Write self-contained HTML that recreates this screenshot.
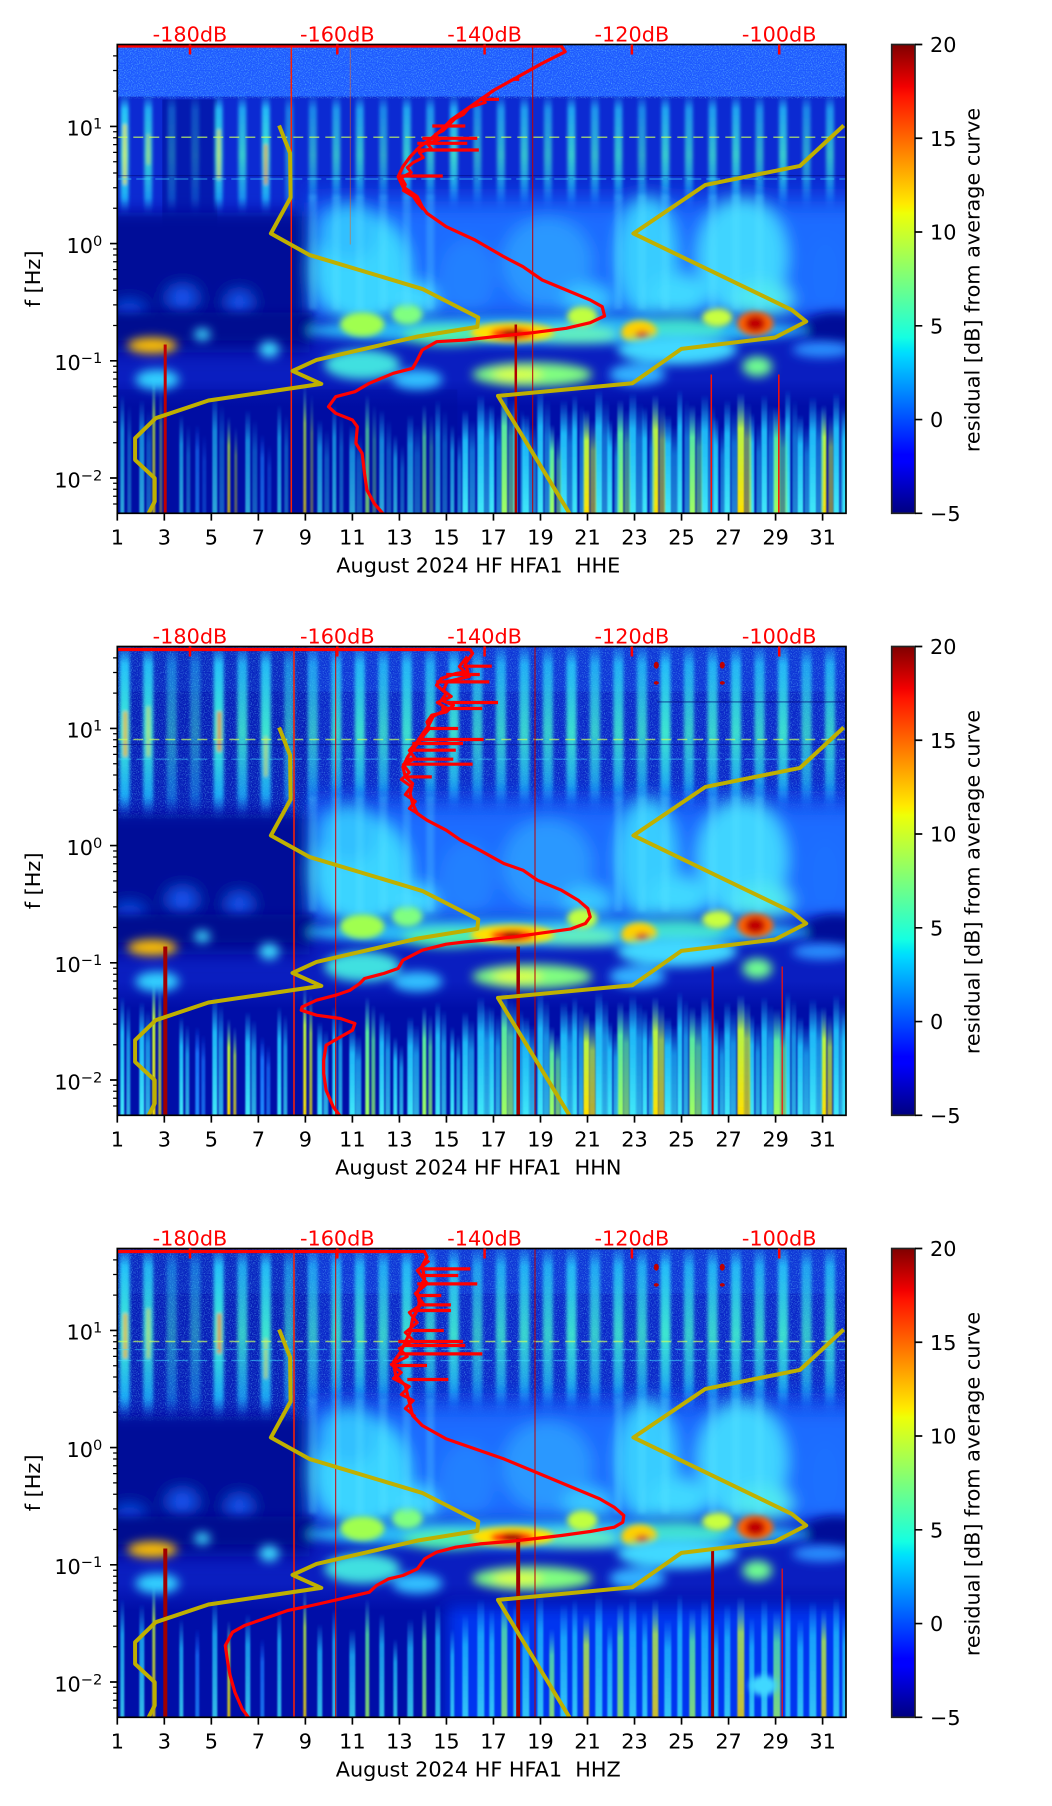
<!DOCTYPE html>
<html><head><meta charset="utf-8"><style>
html,body{margin:0;padding:0;background:#fff;}
svg{display:block;}
text{font-family:"DejaVu Sans","Liberation Sans",sans-serif;}
</style></head><body>
<svg width="1052" height="1806" viewBox="0 0 1052 1806" xmlns="http://www.w3.org/2000/svg" xmlns:xlink="http://www.w3.org/1999/xlink">
<defs>
<filter id="b1" x="-50%" y="-50%" width="200%" height="200%"><feGaussianBlur stdDeviation="0.8"/></filter>
<filter id="b15" x="-50%" y="-20%" width="200%" height="140%"><feGaussianBlur stdDeviation="1.6"/></filter>
<filter id="b3" x="-50%" y="-50%" width="200%" height="200%"><feGaussianBlur stdDeviation="3"/></filter>
<filter id="b5" x="-50%" y="-50%" width="200%" height="200%"><feGaussianBlur stdDeviation="5"/></filter>
<filter id="b8" x="-30%" y="-30%" width="160%" height="160%"><feGaussianBlur stdDeviation="8"/></filter>
<filter id="noise" x="0" y="0" width="100%" height="100%"><feTurbulence type="fractalNoise" baseFrequency="0.85" numOctaves="1" seed="7" result="t"/><feColorMatrix in="t" type="matrix" values="0 0 0 0 0.15  0 0 0 0 0.6  0 0 0 0 1  1.7 0 0 0 -0.78"/></filter>
<linearGradient id="jet" x1="0" y1="0" x2="0" y2="1">
<stop offset="0" stop-color="#800000"/><stop offset="0.09" stop-color="#f30000"/><stop offset="0.11" stop-color="#ff1300"/>
<stop offset="0.34" stop-color="#ffea00"/><stop offset="0.35" stop-color="#f7f500"/><stop offset="0.36" stop-color="#eeff08"/>
<stop offset="0.625" stop-color="#15ffe2"/><stop offset="0.65" stop-color="#00e6f7"/><stop offset="0.66" stop-color="#00dbff"/>
<stop offset="0.875" stop-color="#0000ff"/><stop offset="0.89" stop-color="#0000ff"/><stop offset="1" stop-color="#000080"/>
</linearGradient>
<linearGradient id="lowfade" gradientUnits="userSpaceOnUse" x1="0" y1="335" x2="0" y2="362">
<stop offset="0" stop-color="#000ea8" stop-opacity="0"/><stop offset="1" stop-color="#000ea8" stop-opacity="1"/>
</linearGradient>
<linearGradient id="sg" x1="0" y1="0" x2="0" y2="1">
<stop offset="0" stop-color="#30c0ff" stop-opacity="0"/><stop offset="0.12" stop-color="#28d0ff" stop-opacity="0.9"/>
<stop offset="0.5" stop-color="#40f0d0" stop-opacity="1"/><stop offset="0.85" stop-color="#20c0ff" stop-opacity="0.85"/><stop offset="1" stop-color="#2090ff" stop-opacity="0"/>
</linearGradient>
<linearGradient id="stc" x1="0" y1="0" x2="0" y2="1"><stop offset="0" stop-color="#20b8ff" stop-opacity="0"/><stop offset="0.3" stop-color="#20c8ff" stop-opacity="0.9"/><stop offset="1" stop-color="#40e8f8" stop-opacity="1"/></linearGradient>
<linearGradient id="stg" x1="0" y1="0" x2="0" y2="1"><stop offset="0" stop-color="#40e0ff" stop-opacity="0"/><stop offset="0.3" stop-color="#60ffa0" stop-opacity="0.9"/><stop offset="1" stop-color="#a0ff60" stop-opacity="1"/></linearGradient>
<linearGradient id="sty" x1="0" y1="0" x2="0" y2="1"><stop offset="0" stop-color="#40e0ff" stop-opacity="0"/><stop offset="0.3" stop-color="#c0ff40" stop-opacity="0.95"/><stop offset="1" stop-color="#ffe000" stop-opacity="1"/></linearGradient>
<linearGradient id="stb" x1="0" y1="0" x2="0" y2="1"><stop offset="0" stop-color="#1060ff" stop-opacity="0"/><stop offset="0.3" stop-color="#1878ff" stop-opacity="0.9"/><stop offset="1" stop-color="#2090ff" stop-opacity="0.95"/></linearGradient>
<clipPath id="pc"><rect x="0" y="0" width="728.7" height="468.8"/></clipPath>

<g id="streaks" filter="url(#b1)">
<rect x="3" y="350" width="4" height="119" fill="url(#stc)"/><rect x="22" y="355" width="5" height="114" fill="url(#stc)"/>
<rect x="35" y="330" width="3" height="139" fill="url(#sty)"/><rect x="62" y="370" width="4" height="99" fill="url(#stc)"/>
<rect x="78" y="380" width="4" height="89" fill="url(#stb)"/><rect x="95" y="350" width="5" height="119" fill="url(#stc)"/>
<rect x="110" y="372" width="3" height="97" fill="url(#sty)"/><rect x="128" y="365" width="5" height="104" fill="url(#stc)"/>
<rect x="143" y="390" width="4" height="79" fill="url(#stb)"/><rect x="160" y="360" width="4" height="109" fill="url(#stc)"/>
<rect x="186" y="340" width="3" height="129" fill="url(#sty)"/><rect x="200" y="375" width="5" height="94" fill="url(#stc)"/>
<rect x="215" y="360" width="4" height="109" fill="url(#stc)"/><rect x="232" y="380" width="6" height="89" fill="url(#stc)"/>
<rect x="248" y="350" width="4" height="119" fill="url(#stg)"/><rect x="262" y="365" width="5" height="104" fill="url(#stc)"/>
<rect x="276" y="390" width="4" height="79" fill="url(#stc)"/><rect x="290" y="370" width="6" height="99" fill="url(#stc)"/>
<rect x="305" y="360" width="4" height="109" fill="url(#stg)"/><rect x="318" y="355" width="5" height="114" fill="url(#stc)"/>
<rect x="333" y="380" width="4" height="89" fill="url(#stc)"/><rect x="345" y="365" width="6" height="104" fill="url(#stc)"/>
<rect x="360" y="350" width="7" height="119" fill="url(#stc)"/><rect x="372" y="360" width="5" height="109" fill="url(#stc)"/>
<rect x="384" y="345" width="6" height="124" fill="url(#stg)"/><rect x="396" y="355" width="4" height="114" fill="url(#stc)"/>
<rect x="405" y="370" width="7" height="99" fill="url(#stc)"/><rect x="420" y="345" width="6" height="124" fill="url(#stc)"/>
<rect x="432" y="380" width="5" height="89" fill="url(#stg)"/><rect x="443" y="355" width="7" height="114" fill="url(#stc)"/>
<rect x="455" y="350" width="5" height="119" fill="url(#stc)"/><rect x="466" y="365" width="6" height="104" fill="url(#sty)"/>
<rect x="478" y="345" width="7" height="124" fill="url(#stc)"/><rect x="490" y="375" width="5" height="94" fill="url(#stc)"/>
<rect x="500" y="355" width="6" height="114" fill="url(#stg)"/><rect x="512" y="348" width="7" height="121" fill="url(#stc)"/>
<rect x="525" y="362" width="5" height="107" fill="url(#stc)"/><rect x="535" y="350" width="6" height="119" fill="url(#sty)"/>
<rect x="547" y="370" width="7" height="99" fill="url(#stc)"/><rect x="560" y="345" width="5" height="124" fill="url(#stc)"/>
<rect x="572" y="360" width="6" height="109" fill="url(#stg)"/><rect x="584" y="350" width="7" height="119" fill="url(#stc)"/>
<rect x="596" y="372" width="5" height="97" fill="url(#stc)"/><rect x="607" y="355" width="6" height="114" fill="url(#stc)"/>
<rect x="620" y="348" width="7" height="121" fill="url(#sty)"/><rect x="632" y="368" width="5" height="101" fill="url(#stc)"/>
<rect x="644" y="350" width="6" height="119" fill="url(#stc)"/><rect x="656" y="362" width="7" height="107" fill="url(#stg)"/>
<rect x="668" y="345" width="5" height="124" fill="url(#stc)"/><rect x="680" y="370" width="6" height="99" fill="url(#stc)"/>
<rect x="692" y="352" width="7" height="117" fill="url(#stc)"/><rect x="704" y="360" width="5" height="109" fill="url(#sty)"/>
<rect x="716" y="348" width="6" height="121" fill="url(#stc)"/><rect x="725" y="365" width="5" height="104" fill="url(#stc)"/>
</g>

<g id="mid">
<g filter="url(#b8)">
<rect x="-30" y="168" width="222" height="140" fill="#000c98"/>
<rect x="192" y="158" width="560" height="114" fill="#1a6cff"/>
<rect x="192" y="145" width="560" height="22" fill="#1450f0" opacity="0.6"/>
<ellipse cx="245" cy="225" rx="48" ry="55" fill="#3ad4ff"/>
<ellipse cx="232" cy="188" rx="28" ry="28" fill="#30c0ff"/>
<ellipse cx="295" cy="255" rx="25" ry="18" fill="#40d8ff"/>
<ellipse cx="350" cy="232" rx="28" ry="38" fill="#2080ff"/>
<ellipse cx="430" cy="218" rx="45" ry="45" fill="#2a98ff"/>
<ellipse cx="470" cy="255" rx="25" ry="15" fill="#38c8ff"/>
<ellipse cx="530" cy="212" rx="30" ry="60" fill="#38ccff"/>
<ellipse cx="560" cy="250" rx="30" ry="20" fill="#40d8ff"/>
<ellipse cx="625" cy="212" rx="45" ry="58" fill="#40d4ff"/>
<ellipse cx="645" cy="255" rx="30" ry="18" fill="#50e8f0"/>
<ellipse cx="708" cy="230" rx="20" ry="40" fill="#1e70ff"/>
<ellipse cx="65" cy="253" rx="14" ry="10" fill="#1a5cff"/>
<ellipse cx="122" cy="258" rx="12" ry="10" fill="#1a5cff"/>
<ellipse cx="12" cy="266" rx="15" ry="8" fill="#1050f0"/>
</g>
<g filter="url(#b5)">
<rect x="-20" y="268" width="215" height="28" fill="#000a90"/>
<ellipse cx="718" cy="284" rx="32" ry="16" fill="#000c98"/>
<ellipse cx="440" cy="286" rx="250" ry="14" fill="#30d0ff" opacity="0.85"/>
<ellipse cx="330" cy="291" rx="45" ry="10" fill="#50f0b0"/>
<ellipse cx="560" cy="286" rx="45" ry="13" fill="#40e0d0"/>
<ellipse cx="460" cy="290" rx="40" ry="9" fill="#60f0c0"/>
</g>
<g filter="url(#b3)">
<ellipse cx="245" cy="280" rx="22" ry="12" fill="#a0ff50"/>
<ellipse cx="290" cy="270" rx="15" ry="10" fill="#80ff80"/>
<ellipse cx="395" cy="288" rx="42" ry="10" fill="#ffe000"/>
<ellipse cx="395" cy="289" rx="22" ry="6" fill="#ff2000"/>
<ellipse cx="395" cy="289" rx="10" ry="4" fill="#a00000"/>
<ellipse cx="465" cy="272" rx="15" ry="10" fill="#c0ff40"/>
<ellipse cx="522" cy="288" rx="18" ry="12" fill="#ffd000"/>
<ellipse cx="525" cy="291" rx="7" ry="5" fill="#ff5000"/>
<ellipse cx="600" cy="273" rx="15" ry="9" fill="#c8ff40"/>
<ellipse cx="638" cy="279" rx="18" ry="12" fill="#ff6000"/>
<ellipse cx="638" cy="279" rx="10" ry="8" fill="#c00000"/>
</g>
<g filter="url(#b5)">
<ellipse cx="35" cy="301" rx="25" ry="8" fill="#ffc000"/>
<ellipse cx="40" cy="335" rx="22" ry="10" fill="#30d0ff"/>
<ellipse cx="85" cy="290" rx="8" ry="6" fill="#40e0ff"/>
<ellipse cx="152" cy="305" rx="10" ry="8" fill="#40e0ff"/>
<ellipse cx="245" cy="320" rx="38" ry="15" fill="#40e0e0"/>
<ellipse cx="300" cy="335" rx="25" ry="10" fill="#30c0ff"/>
<ellipse cx="415" cy="330" rx="60" ry="12" fill="#80ff80"/>
<ellipse cx="400" cy="330" rx="25" ry="6" fill="#e0ff40"/>
<ellipse cx="520" cy="330" rx="28" ry="11" fill="#30b0ff"/>
<ellipse cx="560" cy="305" rx="60" ry="15" fill="#40d8ff"/>
<ellipse cx="640" cy="322" rx="15" ry="10" fill="#70ff90"/>
<ellipse cx="705" cy="305" rx="30" ry="8" fill="#2a90ff"/>
</g>
</g>

<g id="yel" fill="none" stroke="#bfb000" stroke-width="4" stroke-linejoin="round">
<polyline points="161.8,81.0 172.8,108.7 173.3,153.0 153.6,189.0 192.0,210.4 304.9,244.4 361.0,273.0 360.0,282.4 300.5,292.0 199.2,315.4 175.2,326.4 204.0,339.4 91.2,356.0 38.4,373.7 17.8,393.7 17.8,415.4 37.4,433.7 37.4,457.0 30.2,471"/>
<polyline points="726.4,81.0 682.7,121.4 588.1,140.4 516.1,189.0 674.5,265.4 688.9,277.0 657.7,293.0 564.1,304.4 515.1,338.7 380.7,351.4 453.5,471"/>
</g>

<g id="axes">
<rect x="0" y="0" width="728.7" height="468.8" fill="none" stroke="#000" stroke-width="1.67"/>
<path d="M0,81.9h-7.3M0,199.1h-7.3M0,316.3h-7.3M0,433.5h-7.3" stroke="#000" stroke-width="1.67"/>
<path d="M0,46.6h-4.2M0,26h-4.2M0,11.4h-4.2M0,163.8h-4.2M0,143.2h-4.2M0,128.5h-4.2M0,117.2h-4.2M0,107.9h-4.2M0,100.1h-4.2M0,93.3h-4.2M0,87.3h-4.2M0,281h-4.2M0,260.4h-4.2M0,245.7h-4.2M0,234.4h-4.2M0,225.1h-4.2M0,217.3h-4.2M0,210.5h-4.2M0,204.5h-4.2M0,398.2h-4.2M0,377.6h-4.2M0,362.9h-4.2M0,351.6h-4.2M0,342.3h-4.2M0,334.5h-4.2M0,327.7h-4.2M0,321.7h-4.2M0,459.5h-4.2M0,451.7h-4.2M0,444.7h-4.2M0,438.7h-4.2" stroke="#000" stroke-width="1.25"/>
<path d="M0,468.8v7.3M47.02,468.8v7.3M94.04,468.8v7.3M141.06,468.8v7.3M188.08,468.8v7.3M235.1,468.8v7.3M282.12,468.8v7.3M329.14,468.8v7.3M376.16,468.8v7.3M423.18,468.8v7.3M470.2,468.8v7.3M517.22,468.8v7.3M564.24,468.8v7.3M611.26,468.8v7.3M658.28,468.8v7.3M705.3,468.8v7.3" stroke="#000" stroke-width="1.67"/>
<g font-size="20.8" text-anchor="middle" fill="#000">
<text x="0" y="499.8">1</text><text x="47.02" y="499.8">3</text><text x="94.04" y="499.8">5</text><text x="141.06" y="499.8">7</text>
<text x="188.08" y="499.8">9</text><text x="235.1" y="499.8">11</text><text x="282.12" y="499.8">13</text><text x="329.14" y="499.8">15</text>
<text x="376.16" y="499.8">17</text><text x="423.18" y="499.8">19</text><text x="470.2" y="499.8">21</text><text x="517.22" y="499.8">23</text>
<text x="564.24" y="499.8">25</text><text x="611.26" y="499.8">27</text><text x="658.28" y="499.8">29</text><text x="705.3" y="499.8">31</text>
</g>
<g font-size="20.8" text-anchor="end" fill="#000">
<text x="-15" y="91.2">10<tspan font-size="14.6" dy="-7">1</tspan></text>
<text x="-15" y="208.4">10<tspan font-size="14.6" dy="-7">0</tspan></text>
<text x="-15" y="325.6">10<tspan font-size="14.6" dy="-7">−1</tspan></text>
<text x="-15" y="442.8">10<tspan font-size="14.6" dy="-7">−2</tspan></text>
</g>
<text transform="translate(-77.3,234.4) rotate(-90)" font-size="20.8" text-anchor="middle" fill="#000">f [Hz]</text>
<g font-size="20.8" text-anchor="middle" fill="#ff0000">
<text x="72.7" y="-3">-180dB</text><text x="220" y="-3">-160dB</text><text x="367.3" y="-3">-140dB</text><text x="514.6" y="-3">-120dB</text><text x="661.9" y="-3">-100dB</text>
</g>
<path d="M72.7,0v10M220,0v10M367.3,0v10M514.6,0v10M661.9,0v10" stroke="#ff0000" stroke-width="2.5"/>
<rect x="774.4" y="0" width="23.3" height="468.8" fill="url(#jet)" stroke="#222" stroke-width="1.67"/>
<path d="M797.7,0h7.3M797.7,93.76h7.3M797.7,187.52h7.3M797.7,281.28h7.3M797.7,375.04h7.3M797.7,468.8h7.3" stroke="#000" stroke-width="1.67"/>
<g font-size="20.8" fill="#000">
<text x="812.7" y="7.6">20</text><text x="812.7" y="101.4">15</text><text x="812.7" y="195.1">10</text><text x="812.7" y="288.9">5</text><text x="812.7" y="382.6">0</text><text x="812.7" y="476.4">−5</text>
</g>
<text transform="translate(862.2,235.5) rotate(-90)" font-size="20.8" text-anchor="middle" fill="#000">residual [dB] from average curve</text>
</g>

<rect id="s1" x="-4" y="50" width="8" height="122" fill="url(#sg)"/>
<rect id="s2" x="-5" y="-4" width="10" height="180" fill="url(#sg)"/>
<rect id="s3" x="-4" y="150" width="8" height="115" fill="#60e8ff" opacity="0.25"/>
</defs>

<!-- ================= PANEL 1 ================= -->
<g transform="translate(117.3,44.5)">
<g clip-path="url(#pc)">
<rect x="0" y="0" width="728.7" height="468.8" fill="#0a1ec0"/>
<rect x="0" y="330" width="728.7" height="139" fill="url(#lowfade)"/>
<use href="#streaks"/>
<use href="#streaks" transform="translate(7,10)" opacity=".55"/>
<rect x="0" y="345" width="340" height="124" fill="#000c98" opacity="0.3"/>
<rect x="0" y="0" width="728.7" height="54" fill="#1e5aff"/>
<rect x="0" y="52" width="728.7" height="120" fill="#0c2ad2"/>
<rect x="45" y="55" width="55" height="140" fill="#00109a" opacity="0.6"/>
<rect x="0" y="0" width="728.7" height="54" filter="url(#noise)"/>
<g filter="url(#b15)">
<use href="#s1" x="7.4"/><use href="#s1" x="30.9" opacity=".85"/><use href="#s1" x="54.4" opacity=".35"/><use href="#s1" x="77.9" opacity=".3"/>
<use href="#s1" x="101.4" opacity=".9"/><use href="#s1" x="125" opacity=".8"/><use href="#s1" x="148.5" opacity=".95"/><use href="#s1" x="172" opacity=".5"/>
<use href="#s1" x="195.5" opacity=".6"/><use href="#s1" x="219" opacity=".7"/><use href="#s1" x="242.5" opacity=".75"/><use href="#s1" x="266" opacity=".6"/>
<use href="#s1" x="289.5" opacity=".8"/><use href="#s1" x="313" opacity=".7"/><use href="#s1" x="336.5" opacity=".85"/><use href="#s1" x="360.1" opacity=".6"/>
<use href="#s1" x="383.6" opacity=".7"/><use href="#s1" x="407.1" opacity=".75"/><use href="#s1" x="430.6" opacity=".65"/><use href="#s1" x="454.1" opacity=".8"/>
<use href="#s1" x="477.6" opacity=".7"/><use href="#s1" x="501.1" opacity=".75"/><use href="#s1" x="524.6" opacity=".6"/><use href="#s1" x="548.1" opacity=".8"/>
<use href="#s1" x="571.6" opacity=".7"/><use href="#s1" x="595.2" opacity=".75"/><use href="#s1" x="618.7" opacity=".8"/><use href="#s1" x="642.2" opacity=".65"/>
<use href="#s1" x="665.7" opacity=".8"/><use href="#s1" x="689.2" opacity=".6"/><use href="#s1" x="712.7" opacity=".7"/>
<rect x="6" y="80" width="3" height="60" fill="#ffe030" opacity=".8"/><rect x="100" y="85" width="3" height="50" fill="#ffe030" opacity=".7"/>
<rect x="147" y="100" width="3" height="40" fill="#ff9020" opacity=".8"/><rect x="29.5" y="90" width="3" height="30" fill="#ffe030" opacity=".5"/>
</g>
<use href="#mid"/>
<g filter="url(#b15)">
<use href="#s3" x="195.5"/><use href="#s3" x="219"/><use href="#s3" x="242.5"/><use href="#s3" x="266"/><use href="#s3" x="289.5"/><use href="#s3" x="313"/>
<use href="#s3" x="501.1"/><use href="#s3" x="524.6"/><use href="#s3" x="548.1"/><use href="#s3" x="595.2"/><use href="#s3" x="618.7"/><use href="#s3" x="642.2"/>
</g>
<line x1="0" y1="92.8" x2="728.7" y2="92.8" stroke="#c8ff60" stroke-width="1.5" stroke-dasharray="10 6" opacity=".7"/>
<line x1="0" y1="131.2" x2="728.7" y2="131.2" stroke="#000060" stroke-width="1.2" opacity=".45"/>
<line x1="0" y1="134.5" x2="728.7" y2="134.5" stroke="#40e0ff" stroke-width="1.2" stroke-dasharray="14 5" opacity=".5"/>
<g stroke-linecap="butt">
<line x1="47.9" y1="300" x2="47.9" y2="469" stroke="#c00000" stroke-width="3"/>
<line x1="174" y1="0" x2="174" y2="469" stroke="#ff2000" stroke-width="1.5"/>
<line x1="233" y1="0" x2="233" y2="200" stroke="#ff6000" stroke-width="1" opacity=".5"/>
<line x1="398.5" y1="280" x2="398.5" y2="469" stroke="#b00000" stroke-width="2.5"/>
<line x1="415.4" y1="0" x2="415.4" y2="469" stroke="#c00000" stroke-width="1"/>
<line x1="594" y1="330" x2="594" y2="469" stroke="#ff1000" stroke-width="1.5"/>
<line x1="661.5" y1="330" x2="661.5" y2="469" stroke="#ff1000" stroke-width="1.5"/>
</g>
<use href="#yel"/>
<g fill="none" stroke="#ff0000" stroke-linejoin="round">
<polyline stroke-width="3.2" points="0,1.5 444,1.5 447.9,7.2 424.9,18.8 400.9,32.2 376.9,45.5 362.5,55.5 348.1,65.5 333.7,75.5 324.1,85.5 312.1,95.5 302.5,102.2 292.9,112.2 285.6,122.2 280.8,132.2 285.6,142.2 300,152.2 304.9,162.2 309.7,168.8 328.9,182.2 357.7,195.5 386.5,212.2 405.7,222.2 424.9,235.5 448.9,245.5 472.9,255.5 484.9,262.2 487.3,271.5 472.9,278.2 448.9,283.8 415.3,288.2 376.9,292.2 348.1,295.5 319.3,297.2 304.9,305.5 300,315.5 295.3,323.8 276,328.8 252,338.8 237.6,347.2 218.4,352.2 211.2,362.2 218.4,368.8 235.2,375.5 240,382.2 238.6,398.8 244.8,408.8 247.2,428.8 249.6,445.5 256.8,458.8 266.4,470"/>
<polyline stroke-width="3" points="372,50 364,54 368,58 352,63 346,70 338,74 332,80 326,86 318,90 322,95 310,99 314,104 302,108 306,113 296,118 290,123 294,128 284,133 288,140 286,146 296,152 300,158 306,165"/>
<g stroke-width="3.2"><line x1="362" y1="54.8" x2="381.7" y2="54.8"/><line x1="315" y1="81.5" x2="348" y2="81.5"/><line x1="305" y1="93.8" x2="360" y2="93.8"/><line x1="300" y1="98.8" x2="350" y2="98.8"/><line x1="298" y1="105.5" x2="361.5" y2="105.5"/><line x1="282" y1="131.5" x2="325.5" y2="131.5"/><line x1="395" y1="34.8" x2="402" y2="34.8"/></g>
</g>
</g>
<use href="#axes"/>
<text x="361" y="528.1" font-size="20.8" text-anchor="middle" fill="#000" style="white-space:pre">August 2024 HF HFA1  HHE</text>
</g>

<!-- ================= PANEL 2 ================= -->
<g transform="translate(117.3,646.5)">
<g clip-path="url(#pc)">
<rect x="0" y="0" width="728.7" height="468.8" fill="#0a1ec0"/>
<rect x="0" y="330" width="728.7" height="139" fill="url(#lowfade)"/>
<use href="#streaks"/>
<use href="#streaks" transform="translate(6,8)" opacity=".75"/>
<rect x="0" y="0" width="728.7" height="172" fill="#0a26c8"/>
<rect x="0" y="0" width="728.7" height="45" fill="#1040e0" opacity=".6"/>
<rect x="0" y="0" width="190" height="200" fill="#000c98" opacity=".35"/>
<rect x="0" y="0" width="728.7" height="172" filter="url(#noise)" opacity=".8"/>
<g filter="url(#b15)">
<use href="#s2" x="7.4"/><use href="#s2" x="30.9" opacity=".95"/><use href="#s2" x="54.4" opacity=".5"/><use href="#s2" x="77.9" opacity=".45"/>
<use href="#s2" x="101.4"/><use href="#s2" x="125" opacity=".85"/><use href="#s2" x="148.5" opacity=".95"/><use href="#s2" x="172" opacity=".6"/>
<use href="#s2" x="195.5" opacity=".7"/><use href="#s2" x="219" opacity=".85"/><use href="#s2" x="242.5" opacity=".9"/><use href="#s2" x="266" opacity=".8"/>
<use href="#s2" x="289.5" opacity=".9"/><use href="#s2" x="313" opacity=".8"/><use href="#s2" x="336.5" opacity=".9"/><use href="#s2" x="360.1" opacity=".75"/>
<use href="#s2" x="383.6" opacity=".8"/><use href="#s2" x="407.1" opacity=".85"/><use href="#s2" x="430.6" opacity=".8"/><use href="#s2" x="454.1" opacity=".9"/>
<use href="#s2" x="477.6" opacity=".8"/><use href="#s2" x="501.1" opacity=".85"/><use href="#s2" x="524.6" opacity=".8"/><use href="#s2" x="548.1" opacity=".95"/>
<use href="#s2" x="571.6" opacity=".8"/><use href="#s2" x="595.2" opacity=".85"/><use href="#s2" x="618.7" opacity=".9"/><use href="#s2" x="642.2" opacity=".8"/>
<use href="#s2" x="665.7" opacity=".9"/><use href="#s2" x="689.2" opacity=".75"/><use href="#s2" x="712.7" opacity=".8"/>
<rect x="6" y="65" width="4" height="45" fill="#ffb020" opacity=".8"/><rect x="100" y="65" width="4" height="40" fill="#ff8020" opacity=".8"/>
<rect x="29.5" y="60" width="3" height="50" fill="#ffe030" opacity=".6"/><rect x="147" y="90" width="3" height="40" fill="#ffe030" opacity=".6"/>
</g>
<use href="#mid"/>
<g filter="url(#b15)">
<use href="#s3" x="195.5"/><use href="#s3" x="219"/><use href="#s3" x="242.5"/><use href="#s3" x="266"/><use href="#s3" x="289.5"/><use href="#s3" x="313"/>
<use href="#s3" x="501.1"/><use href="#s3" x="524.6"/><use href="#s3" x="548.1"/><use href="#s3" x="595.2"/><use href="#s3" x="618.7"/><use href="#s3" x="642.2"/>
</g>
<g fill="#c00000"><ellipse cx="539" cy="18.7" rx="2.5" ry="3.5"/><ellipse cx="605" cy="18.7" rx="2.5" ry="3.5"/><ellipse cx="539" cy="36.4" rx="2.5" ry="1.8"/><ellipse cx="605" cy="36.4" rx="2.5" ry="1.8"/></g>
<line x1="540" y1="55.4" x2="728.7" y2="55.4" stroke="#000070" stroke-width="1.5" opacity=".45"/>
<line x1="0" y1="93" x2="728.7" y2="93" stroke="#c8ff60" stroke-width="1.5" stroke-dasharray="10 6" opacity=".7"/>
<line x1="0" y1="98" x2="728.7" y2="98" stroke="#000070" stroke-width="1.2" opacity=".4"/>
<line x1="0" y1="112.7" x2="728.7" y2="112.7" stroke="#40e0ff" stroke-width="1.2" stroke-dasharray="14 5" opacity=".5"/>
<g>
<line x1="48" y1="300" x2="48" y2="469" stroke="#a00000" stroke-width="4"/>
<line x1="176.7" y1="0" x2="176.7" y2="469" stroke="#ff2000" stroke-width="1.5"/>
<line x1="218.4" y1="0" x2="218.4" y2="469" stroke="#d00000" stroke-width="1"/>
<line x1="400.9" y1="300" x2="400.9" y2="469" stroke="#a00000" stroke-width="3.5"/>
<line x1="417.7" y1="0" x2="417.7" y2="469" stroke="#c00000" stroke-width="1"/>
<line x1="595.3" y1="320" x2="595.3" y2="469" stroke="#c00000" stroke-width="2"/>
<line x1="664.9" y1="320" x2="664.9" y2="469" stroke="#ff1000" stroke-width="1.2"/>
</g>
<use href="#yel"/>
<g fill="none" stroke="#ff0000" stroke-linejoin="round">
<polyline stroke-width="3.2" points="0,3 352.9,3 355.3,7 348.1,17 350.5,25.4 338.5,27 324.1,32 319.3,38.7 328.9,47 324.1,53.7 336.1,58.7 328.9,65.4 314.5,68.7 309.7,75.4 312.1,82 304.9,90.4 297.6,100.4 290.4,110.4 285.6,120.4 288,130.4 295.3,137 292.8,147 295.3,157 300,167 309.7,173.7 328.9,183.7 343.3,193.7 362.5,203.7 386.5,217 405.7,223.7 420.1,233.7 444.1,243.7 460.9,253.7 470.5,262 472.9,270.4 468.1,277 453.7,282.4 424.9,286.4 396.1,290.4 367.3,293.7 348.1,295.4 328.9,297.7 304.9,303.7 285.6,313.7 280.8,322 266.4,327 247.2,332 242.4,337 232.8,343.7 218.4,348.7 199.2,353.7 184.8,360.4 183.9,363.7 199.2,368.7 223.2,372 237.6,377 235.2,383.7 223.2,390.4 208.8,398.7 206.4,413.7 206.4,427 208.8,443.7 216,460.4 223.2,470"/>
<polyline stroke-width="3" points="350,10 342,20 352,30 330,35 326,44 334,50 320,56 330,62 316,70 312,78 306,86 300,95 292,104 298,112 286,118 292,126 284,133 294,140 288,148 298,155 292,162 302,168"/>
<g stroke-width="3.2"><line x1="346" y1="19.7" x2="374.5" y2="19.7"/><line x1="328.9" y1="28" x2="362.5" y2="28"/><line x1="319" y1="35.4" x2="372" y2="35.4"/><line x1="329" y1="56" x2="380.7" y2="56"/><line x1="324" y1="62" x2="365" y2="62"/><line x1="309.7" y1="82" x2="340.9" y2="82"/><line x1="300" y1="93" x2="366.3" y2="93"/><line x1="295" y1="97" x2="345.7" y2="97"/><line x1="292.8" y1="103.7" x2="338.5" y2="103.7"/><line x1="288" y1="112.7" x2="336" y2="112.7"/><line x1="288" y1="117.7" x2="355.3" y2="117.7"/><line x1="288" y1="130.4" x2="314.5" y2="130.4"/></g>
</g>
</g>
<use href="#axes"/>
<text x="361" y="528.1" font-size="20.8" text-anchor="middle" fill="#000" style="white-space:pre">August 2024 HF HFA1  HHN</text>
</g>

<!-- ================= PANEL 3 ================= -->
<g transform="translate(117.3,1248.5)">
<g clip-path="url(#pc)">
<rect x="0" y="0" width="728.7" height="468.8" fill="#0a1ec0"/>
<rect x="0" y="330" width="728.7" height="139" fill="url(#lowfade)"/>
<rect x="330" y="358" width="420" height="130" fill="#0036f0" filter="url(#b8)"/>
<use href="#streaks" opacity=".8"/>
<ellipse cx="646" cy="437" rx="14" ry="10" fill="#40d8ff" filter="url(#b3)"/>
<rect x="0" y="0" width="728.7" height="172" fill="#0a26c8"/>
<rect x="0" y="0" width="728.7" height="45" fill="#1040e0" opacity=".6"/>
<rect x="0" y="0" width="190" height="200" fill="#000c98" opacity=".35"/>
<rect x="0" y="0" width="728.7" height="172" filter="url(#noise)" opacity=".8"/>
<g filter="url(#b15)">
<use href="#s2" x="7.4"/><use href="#s2" x="30.9" opacity=".9"/><use href="#s2" x="54.4" opacity=".45"/><use href="#s2" x="77.9" opacity=".45"/>
<use href="#s2" x="101.4"/><use href="#s2" x="125" opacity=".8"/><use href="#s2" x="148.5" opacity=".95"/><use href="#s2" x="172" opacity=".6"/>
<use href="#s2" x="195.5" opacity=".7"/><use href="#s2" x="219" opacity=".85"/><use href="#s2" x="242.5" opacity=".85"/><use href="#s2" x="266" opacity=".8"/>
<use href="#s2" x="289.5" opacity=".9"/><use href="#s2" x="313" opacity=".75"/><use href="#s2" x="336.5" opacity=".9"/><use href="#s2" x="360.1" opacity=".7"/>
<use href="#s2" x="383.6" opacity=".8"/><use href="#s2" x="407.1" opacity=".85"/><use href="#s2" x="430.6" opacity=".8"/><use href="#s2" x="454.1" opacity=".9"/>
<use href="#s2" x="477.6" opacity=".8"/><use href="#s2" x="501.1" opacity=".85"/><use href="#s2" x="524.6" opacity=".8"/><use href="#s2" x="548.1" opacity=".95"/>
<use href="#s2" x="571.6" opacity=".8"/><use href="#s2" x="595.2" opacity=".85"/><use href="#s2" x="618.7" opacity=".9"/><use href="#s2" x="642.2" opacity=".8"/>
<use href="#s2" x="665.7" opacity=".9"/><use href="#s2" x="689.2" opacity=".75"/><use href="#s2" x="712.7" opacity=".8"/>
<rect x="6" y="65" width="4" height="45" fill="#ffb020" opacity=".8"/><rect x="100" y="65" width="4" height="40" fill="#ff8020" opacity=".8"/>
<rect x="29.5" y="60" width="3" height="50" fill="#ffe030" opacity=".6"/><rect x="147" y="90" width="3" height="40" fill="#ffe030" opacity=".6"/>
</g>
<use href="#mid"/>
<g filter="url(#b15)">
<use href="#s3" x="195.5"/><use href="#s3" x="219"/><use href="#s3" x="242.5"/><use href="#s3" x="266"/><use href="#s3" x="289.5"/><use href="#s3" x="313"/>
<use href="#s3" x="501.1"/><use href="#s3" x="524.6"/><use href="#s3" x="548.1"/><use href="#s3" x="595.2"/><use href="#s3" x="618.7"/><use href="#s3" x="642.2"/>
</g>
<g fill="#c00000"><ellipse cx="539" cy="18.7" rx="2.5" ry="3.5"/><ellipse cx="605" cy="18.7" rx="2.5" ry="3.5"/><ellipse cx="539" cy="36.4" rx="2.5" ry="1.8"/><ellipse cx="605" cy="36.4" rx="2.5" ry="1.8"/></g>
<line x1="0" y1="93" x2="728.7" y2="93" stroke="#c8ff60" stroke-width="1.5" stroke-dasharray="10 6" opacity=".7"/>
<line x1="0" y1="101" x2="728.7" y2="101" stroke="#40e0ff" stroke-width="1.2" stroke-dasharray="12 6" opacity=".45"/>
<line x1="0" y1="112" x2="728.7" y2="112" stroke="#40e0ff" stroke-width="1.2" stroke-dasharray="14 5" opacity=".5"/>
<g>
<line x1="48" y1="300" x2="48" y2="469" stroke="#a00000" stroke-width="4"/>
<line x1="176.7" y1="0" x2="176.7" y2="469" stroke="#ff2000" stroke-width="1.5"/>
<line x1="218.4" y1="0" x2="218.4" y2="469" stroke="#d00000" stroke-width="1"/>
<line x1="400.9" y1="290" x2="400.9" y2="469" stroke="#a00000" stroke-width="4"/>
<line x1="417.7" y1="0" x2="417.7" y2="469" stroke="#c00000" stroke-width="1"/>
<line x1="595.3" y1="300" x2="595.3" y2="469" stroke="#a00000" stroke-width="3"/>
<line x1="664.9" y1="320" x2="664.9" y2="469" stroke="#ff1000" stroke-width="1.2"/>
</g>
<use href="#yel"/>
<g fill="none" stroke="#ff0000" stroke-linejoin="round">
<polyline stroke-width="3.2" points="0,3 307.2,3 309.7,8.7 304.9,17 307.2,30.4 300,43.7 302.5,57 295.3,70.4 292.8,83.7 288,93.7 283.2,103.7 276,113.7 278.4,127 288,137 290.4,147 292.8,157 295.3,167 304.9,177 328.9,190.4 357.7,200.4 386.5,210.4 410.5,220.4 434.5,230.4 458.5,240.4 482.5,250.4 496.9,258.7 506.5,267 505.5,273.7 496.9,278.7 472.9,283 444.1,287 415.3,290.4 391.3,293 362.5,295.4 338.5,298.7 319.3,303.7 307.2,310.4 300,320.4 285.6,327 271.2,330.4 259.2,337 252,343.7 223.2,350.4 194.4,357 170.4,362 146.4,370.4 127.2,377 115.2,383.7 108,397 110.4,413.7 112.8,427 117.6,443.7 124.8,460.4 132,470"/>
<polyline stroke-width="3" points="312,12 300,22 310,35 298,45 306,55 292,64 300,74 288,84 296,92 282,100 290,108 274,116 284,124 276,130 292,138 284,146 296,152 288,160 298,168"/>
<g stroke-width="3.2"><line x1="305" y1="20.4" x2="353" y2="20.4"/><line x1="305" y1="27" x2="341" y2="27"/><line x1="300" y1="35.4" x2="360" y2="35.4"/><line x1="300" y1="47" x2="324" y2="47"/><line x1="300" y1="56.4" x2="333.6" y2="56.4"/><line x1="295" y1="62" x2="333.6" y2="62"/><line x1="290" y1="82" x2="326.5" y2="82"/><line x1="281" y1="93" x2="345.7" y2="93"/><line x1="285.6" y1="97" x2="348" y2="97"/><line x1="281" y1="105.4" x2="365" y2="105.4"/><line x1="276" y1="117" x2="309.7" y2="117"/><line x1="290" y1="131" x2="331" y2="131"/></g>
</g>
</g>
<use href="#axes"/>
<text x="361" y="528.1" font-size="20.8" text-anchor="middle" fill="#000" style="white-space:pre">August 2024 HF HFA1  HHZ</text>
</g>
</svg>
</body></html>
